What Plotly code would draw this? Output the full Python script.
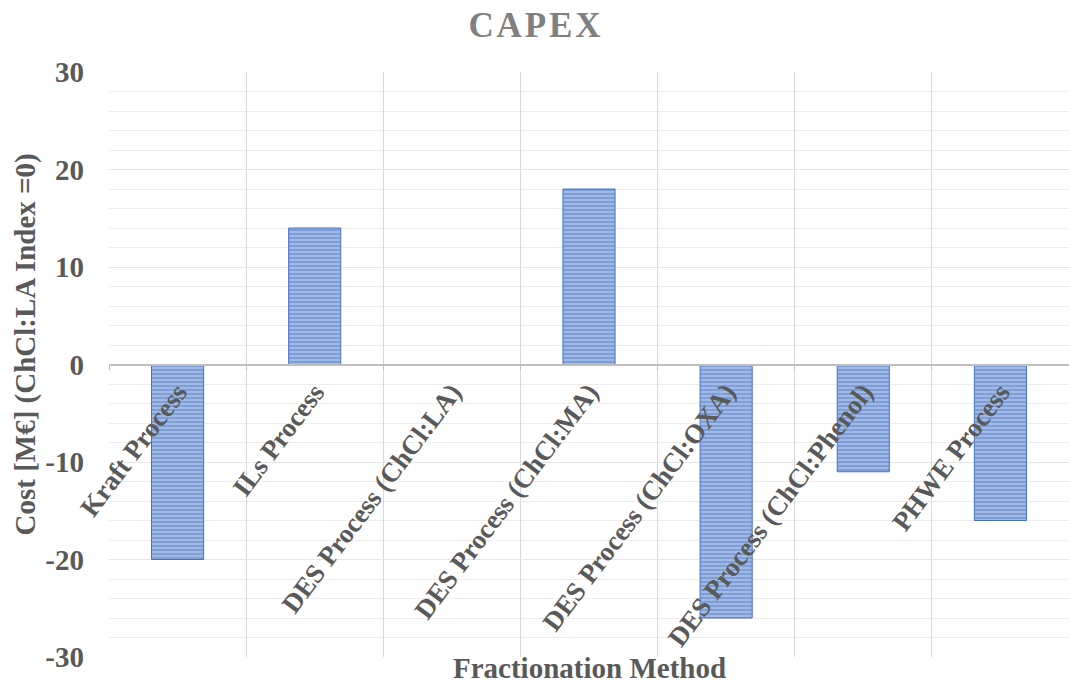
import plotly.graph_objects as go

# Fractionation routes and their CAPEX relative to the ChCl:LA DES process (M€)
categories = [
    "Kraft Process",
    "ILs Process",
    "DES Process (ChCl:LA)",
    "DES Process (ChCl:MA)",
    "DES Process (ChCl:OXA)",
    "DES Process (ChCl:Phenol)",
    "PHWE Process",
]
capex = [-20, 14, 0, 18, -26, -11, -16]

y_ticks = [-30, -20, -10, 0, 10, 20, 30]

serif = "Times New Roman, Liberation Serif, serif"
text_grey = "#595959"
blue = "#4472C4"
stripe_gap = "#b9cbed"

fig = go.Figure(
    go.Bar(
        x=categories,
        y=capex,
        width=0.38,
        marker=dict(
            color=stripe_gap,
            line=dict(color=blue, width=1),
            pattern=dict(shape="-", fgcolor=blue, bgcolor=stripe_gap, size=4, solidity=0.7),
        ),
        showlegend=False,
    )
)

fig.update_layout(
    width=1069,
    height=688,
    margin=dict(l=109, r=0, t=72, b=31),
    paper_bgcolor="white",
    plot_bgcolor="white",
    title=dict(
        text="<b>C\u200aA\u200aP\u200aE\u200aX</b>",
        x=0.5,
        xanchor="center",
        xref="container",
        y=1 - 25 / 688,
        yref="container",
        yanchor="middle",
        font=dict(family=serif, size=35, color="#808080"),
    ),
    xaxis=dict(
        type="category",
        anchor="free",
        position=0.5,
        tickson="boundaries",
        showgrid=True,
        gridcolor="#d9d9d9",
        gridwidth=1,
        showline=True,
        linecolor="#bfbfbf",
        linewidth=2,
        ticks="outside",
        ticklen=4,
        tickcolor="#bfbfbf",
        tickwidth=1,
        tickangle=-53,
        tickfont=dict(family=serif, size=27, color=text_grey, weight="bold"),
        automargin=False,
        zeroline=False,
    ),
    yaxis=dict(
        range=[-30, 30],
        tickvals=y_ticks,
        ticktext=[str(v) for v in y_ticks],
        showgrid=True,
        gridcolor="#e6e6e6",
        gridwidth=1,
        minor=dict(dtick=2, showgrid=True, gridcolor="#ededed", gridwidth=1),
        zeroline=False,
        showline=False,
        ticks="",
        ticklabelstandoff=24,
        tickfont=dict(family=serif, size=29, color=text_grey, weight="bold"),
        automargin=False,
    ),
)

# Value-axis title, placed beside the tick labels
fig.add_annotation(
    text="<b>Cost [M€] (ChCl:LA Index =0)</b>",
    textangle=-90,
    x=0,
    xref="paper",
    xanchor="center",
    xshift=-84,
    y=0.5,
    yref="paper",
    yanchor="middle",
    yshift=20,
    showarrow=False,
    font=dict(family=serif, size=29, color=text_grey),
)

# Category-axis title along the bottom edge
fig.add_annotation(
    text="<b>Fractionation Method</b>",
    x=0.5,
    xref="paper",
    y=0,
    yref="paper",
    yanchor="top",
    yshift=6,
    borderpad=0,
    showarrow=False,
    font=dict(family=serif, size=29, color=text_grey),
)

fig.write_html("out.html")
